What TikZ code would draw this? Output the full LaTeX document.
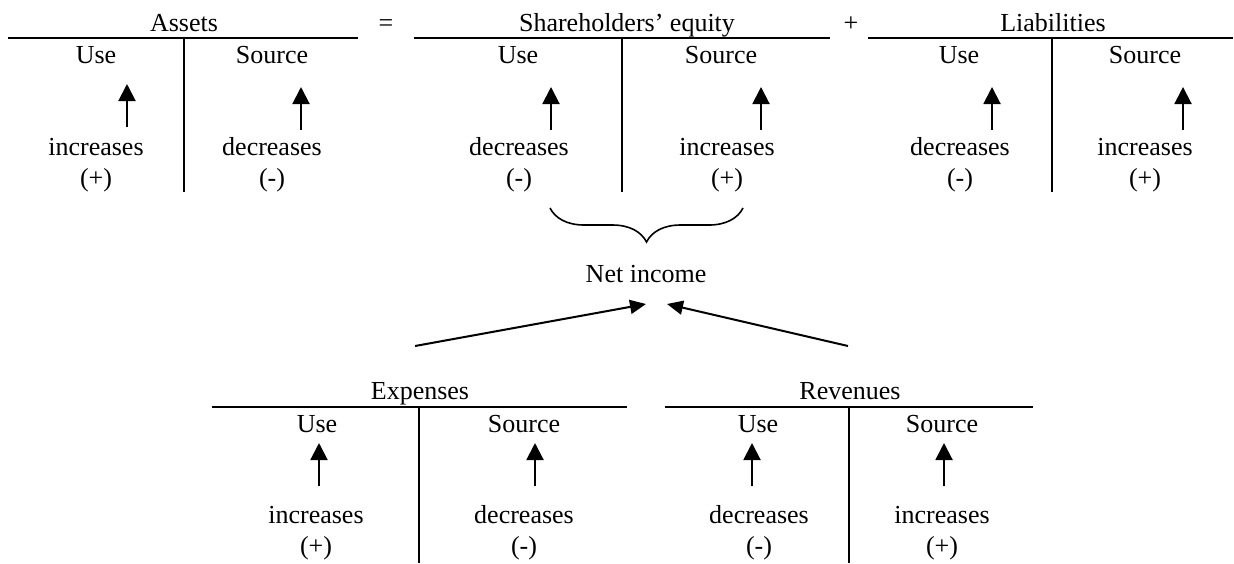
\documentclass[tikz,border=0pt]{standalone}
\usepackage{fontspec}
\setmainfont{Liberation Serif}
\usetikzlibrary{arrows.meta,decorations.pathreplacing}
\begin{document}
\begin{tikzpicture}[x=0.5pt,y=-0.5pt,
  lbl/.style={anchor=base,inner sep=0pt,font=\fontsize{13}{15}\selectfont},
  rule/.style={line width=1pt},
  uparrow/.style={line width=1pt,-{Triangle[length=8.5pt,width=8.5pt]}},
  linkarrow/.style={line width=1pt,-{Triangle[length=8pt,width=7pt]}},
  bracestyle/.style={line width=0.8pt,decorate,decoration={brace,amplitude=17pt}}]
\useasboundingbox (0,0) rectangle (1234,563);

% ---------- Assets ----------
\node[lbl] (asT) at (184,31) {Assets};
\draw[rule] (8,38) coordinate (asL) -- (358,38) coordinate (asR);
\draw[rule] (184,38) coordinate (asV1) -- (184,192) coordinate (asV2);
\node[lbl] (asU) at (96,63) {Use};
\node[lbl] (asS) at (272,63) {Source};
\coordinate (asUa) at (127,127); \coordinate (asUb) at (127,84);
\coordinate (asSa) at (301,130); \coordinate (asSb) at (301,87);
\draw[uparrow] (asUa) -- (asUb);
\draw[uparrow] (asSa) -- (asSb);
\node[lbl] (asUw) at (96,155) {increases};
\node[lbl] (asUs) at (96,186) {(+)};
\node[lbl] (asSw) at (272,155) {decreases};
\node[lbl] (asSs) at (272,186) {(-)};

\node[lbl] (eq) at (386,31) {=};

% ---------- Shareholders' equity ----------
\node[lbl] (seT) at (627,31) {Shareholders’ equity};
\draw[rule] (414,38) coordinate (seL) -- (830,38) coordinate (seR);
\draw[rule] (622,38) coordinate (seV1) -- (622,192) coordinate (seV2);
\node[lbl] (seU) at (518,63) {Use};
\node[lbl] (seS) at (721,63) {Source};
\coordinate (seUa) at (551,130); \coordinate (seUb) at (551,87);
\coordinate (seSa) at (761,130); \coordinate (seSb) at (761,87);
\draw[uparrow] (seUa) -- (seUb);
\draw[uparrow] (seSa) -- (seSb);
\node[lbl] (seUw) at (519,155) {decreases};
\node[lbl] (seUs) at (519,186) {(-)};
\node[lbl] (seSw) at (727,155) {increases};
\node[lbl] (seSs) at (727,186) {(+)};

\node[lbl] (plus) at (851,31) {+};

% ---------- Liabilities ----------
\node[lbl] (liT) at (1053,31) {Liabilities};
\draw[rule] (868,38) coordinate (liL) -- (1233,38) coordinate (liR);
\draw[rule] (1052,38) coordinate (liV1) -- (1052,192) coordinate (liV2);
\node[lbl] (liU) at (959,63) {Use};
\node[lbl] (liS) at (1145,63) {Source};
\coordinate (liUa) at (992,130); \coordinate (liUb) at (992,87);
\coordinate (liSa) at (1183,130); \coordinate (liSb) at (1183,87);
\draw[uparrow] (liUa) -- (liUb);
\draw[uparrow] (liSa) -- (liSb);
\node[lbl] (liUw) at (960,155) {decreases};
\node[lbl] (liUs) at (960,186) {(-)};
\node[lbl] (liSw) at (1145,155) {increases};
\node[lbl] (liSs) at (1145,186) {(+)};

% ---------- Net income ----------
\coordinate (brL) at (550,208);
\coordinate (brR) at (743,208);
\draw[bracestyle] (brR) -- (brL);
\node[lbl] (ni) at (646,282) {Net income};
\coordinate (niL) at (646,304);
\coordinate (niR) at (667,304);
\coordinate (exTop) at (415,346);
\coordinate (reTop) at (848,346);
\draw[linkarrow] (exTop) -- (niL);
\draw[linkarrow] (reTop) -- (niR);

% ---------- Expenses ----------
\node[lbl] (exT) at (420,399) {Expenses};
\draw[rule] (212,407) coordinate (exL) -- (627,407) coordinate (exR);
\draw[rule] (419,407) coordinate (exV1) -- (419,563) coordinate (exV2);
\node[lbl] (exU) at (317,432) {Use};
\node[lbl] (exS) at (524,432) {Source};
\coordinate (exUa) at (319,486); \coordinate (exUb) at (319,443);
\coordinate (exSa) at (535,486); \coordinate (exSb) at (535,443);
\draw[uparrow] (exUa) -- (exUb);
\draw[uparrow] (exSa) -- (exSb);
\node[lbl] (exUw) at (316,523) {increases};
\node[lbl] (exUs) at (316,554) {(+)};
\node[lbl] (exSw) at (524,523) {decreases};
\node[lbl] (exSs) at (524,554) {(-)};

% ---------- Revenues ----------
\node[lbl] (reT) at (850,399) {Revenues};
\draw[rule] (665,407) coordinate (reL) -- (1033,407) coordinate (reR);
\draw[rule] (849,407) coordinate (reV1) -- (849,563) coordinate (reV2);
\node[lbl] (reU) at (758,432) {Use};
\node[lbl] (reS) at (942,432) {Source};
\coordinate (reUa) at (752,486); \coordinate (reUb) at (752,443);
\coordinate (reSa) at (944,486); \coordinate (reSb) at (944,443);
\draw[uparrow] (reUa) -- (reUb);
\draw[uparrow] (reSa) -- (reSb);
\node[lbl] (reUw) at (759,523) {decreases};
\node[lbl] (reUs) at (759,554) {(-)};
\node[lbl] (reSw) at (942,523) {increases};
\node[lbl] (reSs) at (942,554) {(+)};
\end{tikzpicture}
\end{document}
